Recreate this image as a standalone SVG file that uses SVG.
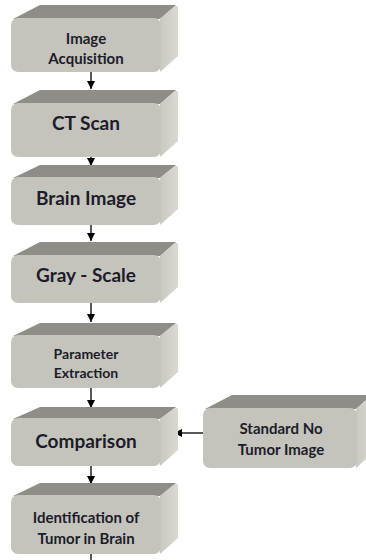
<svg xmlns="http://www.w3.org/2000/svg" width="366" height="560" viewBox="0 0 366 560">
<style>
.front{fill:#c5c4bc}
.top{fill:#8e8d88}
.t{font-family:Lato,"Liberation Sans",sans-serif;font-weight:bold;fill:#1c1c2a;text-anchor:middle}
.big{font-size:19px}
.cmp{font-size:19px}
.sm{font-size:15px}
.xs{font-size:14px}
.c{stroke:#000;stroke-width:1.3;fill:none}
</style>
<defs>
<marker id="ah" viewBox="0 0 10 10" refX="10" refY="5" markerWidth="8" markerHeight="8" markerUnits="userSpaceOnUse" orient="auto"><path d="M0,0 L10,5 L0,10 z" fill="#000"/></marker>
<linearGradient id="sg" x1="0" y1="0" x2="1" y2="0"><stop offset="0" stop-color="#c9c8c1"/><stop offset="1" stop-color="#d9d8d2"/></linearGradient>
</defs>
<rect width="366" height="560" fill="#fff"/>
<g id="connectors">
<line class="c" x1="91" y1="72" x2="91" y2="89" marker-end="url(#ah)"/>
<line class="c" x1="91" y1="157" x2="91" y2="166" marker-end="url(#ah)"/>
<line class="c" x1="91" y1="225" x2="91" y2="241" marker-end="url(#ah)"/>
<line class="c" x1="91" y1="303" x2="91" y2="322" marker-end="url(#ah)"/>
<line class="c" x1="91" y1="388" x2="91" y2="408" marker-end="url(#ah)"/>
<line class="c" x1="91" y1="466" x2="91" y2="484" marker-end="url(#ah)"/>
<line class="c" x1="91" y1="553" x2="91" y2="562"/>
<line class="c" x1="204" y1="433" x2="174" y2="433" marker-end="url(#ah)"/>
</g>
<g id="n1">
<path class="top" d="M13,19 L40,5 L176,5 L160,19 z"/>
<path fill="url(#sg)" d="M160,19 L175,6 Q178,5 178,9 L178,56 L160,72 z"/>
<rect class="front" x="11" y="18" width="150" height="54" rx="7"/>
<text class="t sm" x="86" y="44">Image</text>
<text class="t sm" x="86" y="64">Acquisition</text>
</g>
<g id="n2">
<path class="top" d="M13,104 L40,90 L176,90 L160,104 z"/>
<path fill="url(#sg)" d="M160,104 L175,91 Q178,90 178,94 L178,141 L160,157 z"/>
<rect class="front" x="11" y="103" width="150" height="54" rx="7"/>
<text class="t big" x="86" y="130">CT Scan</text>
</g>
<g id="n3">
<path class="top" d="M13,178 L40,165 L176,165 L160,178 z"/>
<path fill="url(#sg)" d="M160,178 L175,166 Q178,165 178,169 L178,209 L160,225 z"/>
<rect class="front" x="11" y="177" width="150" height="48" rx="7"/>
<text class="t big" x="86" y="205">Brain Image</text>
</g>
<g id="n4">
<path class="top" d="M13,256 L40,242 L176,242 L160,256 z"/>
<path fill="url(#sg)" d="M160,256 L175,243 Q178,242 178,246 L178,287 L160,303 z"/>
<rect class="front" x="11" y="255" width="150" height="48" rx="7"/>
<text class="t big" x="86" y="282">Gray - Scale</text>
</g>
<g id="n5">
<path class="top" d="M13,336 L40,323 L176,323 L160,336 z"/>
<path fill="url(#sg)" d="M160,336 L175,324 Q178,323 178,327 L178,372 L160,388 z"/>
<rect class="front" x="11" y="335" width="150" height="53" rx="7"/>
<text class="t xs" x="86" y="359">Parameter</text>
<text class="t xs" x="86" y="378">Extraction</text>
</g>
<g id="n6">
<path class="top" d="M13,419 L40,407 L176,407 L160,419 z"/>
<path fill="url(#sg)" d="M160,419 L175,408 Q178,407 178,411 L178,450 L160,466 z"/>
<rect class="front" x="11" y="418" width="150" height="48" rx="7"/>
<text class="t cmp" x="86" y="448">Comparison</text>
</g>
<g id="n7">
<path class="top" d="M13,496 L40,483 L176,483 L160,496 z"/>
<path fill="url(#sg)" d="M160,496 L175,484 Q178,483 178,487 L178,538 L160,554 z"/>
<rect class="front" x="11" y="495" width="150" height="59" rx="7"/>
<text class="t sm" x="86" y="523">Identification of</text>
<text class="t sm" x="86" y="544">Tumor in Brain</text>
</g>
<g id="n8">
<path class="top" d="M205,409 L232,395 L372,395 L356,409 z"/>
<path fill="url(#sg)" d="M356,409 L371,396 Q374,395 374,399 L374,452 L356,468 z"/>
<rect class="front" x="203" y="408" width="154" height="60" rx="7"/>
<text class="t sm" x="281" y="434">Standard No</text>
<text class="t sm" x="281" y="455">Tumor Image</text>
</g>
</svg>
